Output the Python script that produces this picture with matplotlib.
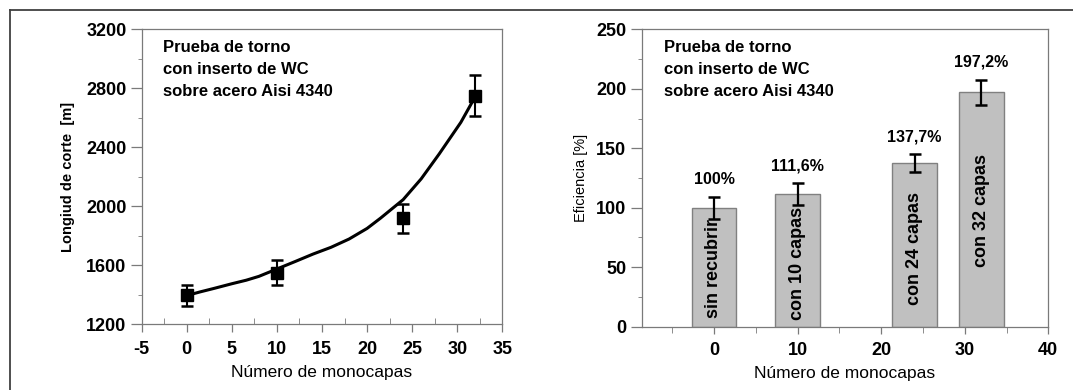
import matplotlib
matplotlib.use("Agg")
import matplotlib.pyplot as plt
from matplotlib.lines import Line2D
from matplotlib.ticker import MultipleLocator

plt.rcParams['font.family'] = ['Liberation Sans', 'DejaVu Sans']
plt.rcParams['axes.unicode_minus'] = False

# ---- data: left panel ----
layers = [0, 10, 24, 32]
length_m = [1396, 1550, 1918, 2749]
length_err = [73, 83, 98, 140]
fit_x = [0, 1.5, 3, 5, 6.6, 8, 10, 12, 14, 16, 18, 20, 21.5, 23, 24, 26, 28, 30.4, 31.6, 32]
fit_y = [1395, 1420, 1443, 1475, 1499, 1525, 1575, 1625, 1676, 1722, 1778, 1850, 1920, 1995, 2045, 2186, 2355, 2569, 2700, 2745]

# ---- data: right panel ----
eff = [100, 111.6, 137.7, 197.2]
eff_err = [9.4, 9.4, 7.5, 10.5]
eff_labels = ['100%', '111,6%', '137,7%', '197,2%']
bar_names = ['sin recubrir', 'con 10 capas', 'con 24 capas', 'con 32 capas']
bar_text_y = [7, 6, 18, 50]

title_txt = "Prueba de torno\ncon inserto de WC\nsobre acero Aisi 4340"
xlabel_txt = "Número de monocapas"

W, H = 1073, 390
fig = plt.figure(figsize=(W / 100, H / 100), dpi=100)

spine_c = '#7a7a7a'

def style(ax):
    for s in ax.spines.values():
        s.set_color(spine_c)
        s.set_linewidth(0.9)
    ax.tick_params(which='both', colors=spine_c, labelcolor='black')
    ax.tick_params(axis='both', which='major', labelsize=13, width=0.9)

# ---- left axes ----
ax1 = fig.add_axes([141.7 / W, 1 - 324.3 / H, 360.6 / W, 295.0 / H])
ax1.set_xlim(-5, 35)
ax1.set_ylim(1200, 3200)
ax1.xaxis.set_major_locator(MultipleLocator(5))
ax1.xaxis.set_minor_locator(MultipleLocator(2.5))
ax1.yaxis.set_major_locator(MultipleLocator(400))
ax1.yaxis.set_minor_locator(MultipleLocator(200))
ax1.plot(fit_x, fit_y, color='black', lw=2.2, zorder=2, solid_joinstyle='round')
ax1.errorbar(layers, length_m, yerr=length_err, fmt='s', color='black',
             ms=9, capsize=4, elinewidth=1.5, capthick=1.8, zorder=3)
style(ax1)
ax1.tick_params(axis='x', which='major', direction='out', length=6, pad=6)
ax1.tick_params(axis='x', which='minor', direction='in', length=4)
ax1.tick_params(axis='y', which='major', direction='out', length=8, pad=3)
ax1.tick_params(axis='y', which='minor', direction='out', length=3)
for lab in ax1.get_xticklabels() + ax1.get_yticklabels():
    lab.set_fontweight('bold')
ax1.set_xlabel(xlabel_txt, fontsize=12.5, labelpad=5)
ax1.set_ylabel("Longiud de corte  [m]", fontsize=10.5, fontweight='bold', labelpad=8)
ax1.text(0.058, 0.965, title_txt, transform=ax1.transAxes, ha='left', va='top',
         fontsize=12, fontweight='bold', linespacing=1.6)

# ---- right axes ----
ax2 = fig.add_axes([641.7 / W, 1 - 326.7 / H, 406.6 / W, 297.4 / H])
ax2.set_xlim(-8.65, 40)
ax2.set_ylim(0, 250)
ax2.xaxis.set_major_locator(MultipleLocator(10))
ax2.xaxis.set_minor_locator(MultipleLocator(5))
ax2.yaxis.set_major_locator(MultipleLocator(50))
ax2.yaxis.set_minor_locator(MultipleLocator(25))
ax2.bar(layers, eff, width=5.35, color='#c0c0c0', edgecolor='#808080', linewidth=1.0, zorder=2)
ax2.errorbar(layers, eff, yerr=eff_err, fmt='none', ecolor='black',
             capsize=4, elinewidth=1.6, capthick=1.8, zorder=4)
for x, v, e, lab in zip(layers, eff, eff_err, eff_labels):
    ax2.annotate(lab, (x, v + e), xytext=(0, 7), textcoords='offset points',
                 ha='center', va='bottom', fontsize=11.5, fontweight='bold')
for x, ty, name in zip(layers, bar_text_y, bar_names):
    ax2.text(x, ty, name, rotation=90, ha='center', va='bottom',
             fontsize=13, fontweight='bold', zorder=3)
style(ax2)
ax2.tick_params(axis='x', which='major', direction='out', length=5, pad=6)
ax2.tick_params(axis='x', which='minor', direction='out', length=4)
ax2.tick_params(axis='y', which='major', direction='out', length=8, pad=3)
ax2.tick_params(axis='y', which='minor', direction='out', length=3)
for lab in ax2.get_xticklabels() + ax2.get_yticklabels():
    lab.set_fontweight('bold')
ax2.set_xlabel(xlabel_txt, fontsize=12.5, labelpad=5)
ax2.set_ylabel("Eficiencia [%]", fontsize=10.5, labelpad=6)
ax2.text(0.055, 0.965, title_txt, transform=ax2.transAxes, ha='left', va='top',
         fontsize=12, fontweight='bold', linespacing=1.6)

# figure frame (top and left edges)
fig.add_artist(Line2D([10 / W, 10 / W], [0, 1 - 10 / H], color='#404040', lw=1.3,
                      transform=fig.transFigure))
fig.add_artist(Line2D([10 / W, 1], [1 - 10 / H, 1 - 10 / H], color='#404040', lw=1.3,
                      transform=fig.transFigure))

fig.savefig('out.png', dpi=100)
